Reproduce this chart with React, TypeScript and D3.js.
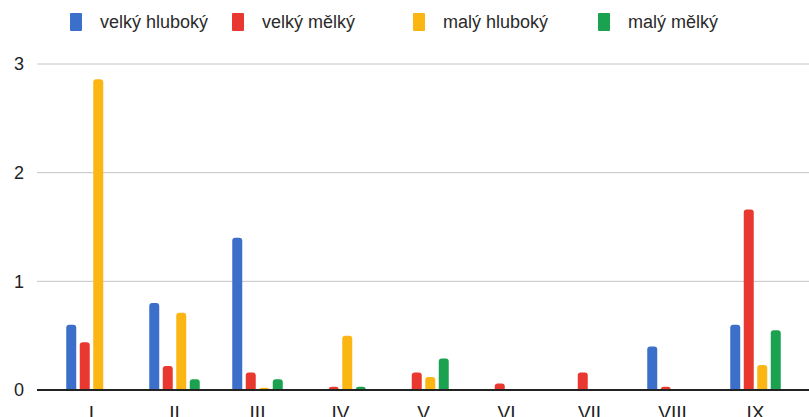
import React from "react";
import * as d3 from "d3";

const categories = ["I", "II", "III", "IV", "V", "VI", "VII", "VIII", "IX"];
const seriesNames = ["velký hluboký", "velký mělký", "malý hluboký", "malý mělký"];
const velkyHluboky = [0.6, 0.8, 1.4, 0, 0, 0, 0, 0.4, 0.6];
const velkyMelky = [0.44, 0.22, 0.16, 0.03, 0.16, 0.06, 0.16, 0.03, 1.66];
const malyHluboky = [2.86, 0.71, 0.02, 0.5, 0.12, 0, 0, 0, 0.23];
const malyMelky = [0, 0.1, 0.1, 0.03, 0.29, 0, 0, 0, 0.55];
const yTicks = [0, 1, 2, 3];
const colors = ["#3b6fc9", "#e8382f", "#fbb613", "#1aa251"];

const W = 809;
const H = 417;
const FONT = "'Liberation Sans', Arial, sans-serif";

function barPath(x: number, y: number, w: number, h: number, r: number) {
	if (h <= 0) return "";
	const rr = Math.min(r, h, w / 2);
	return `M${x},${y + h}V${y + rr}Q${x},${y} ${x + rr},${y}H${x + w - rr}Q${x + w},${y} ${x + w},${y + rr}V${y + h}Z`;
}

export default function App() {
	const series = [velkyHluboky, velkyMelky, malyHluboky, malyMelky];

	const x0 = d3.scaleBand<string>().domain(categories).range([50, 797]).padding(0);
	const x1 = d3
		.scaleBand<number>()
		.domain(d3.range(seriesNames.length))
		.range([0, 50.5])
		.paddingInner(0.26)
		.paddingOuter(0);
	const y = d3.scaleLinear().domain([0, 3]).range([390, 64]);

	// legend positions
	const legendX = [70, 232, 413, 598];

	return (
		<svg
			width={W}
			height={H}
			style={{ position: "fixed", left: 0, top: 0, background: "#fff" }}
			fontFamily={FONT}
		>
			<rect width={W} height={H} fill="#fff" />
			{/* legend */}
			{seriesNames.map((name, i) => (
				<g key={name} transform={`translate(${legendX[i]},0)`}>
					<rect x={0} y={13} width={12} height={18} fill={colors[i]} rx={1} />
					<text x={30} y={28} fontSize={18} fill="#2a2a2a">
						{name}
					</text>
				</g>
			))}
			{/* grid */}
			{yTicks.map((t) => (
				<g key={t}>
					{t !== 0 && <line x1={37} x2={W} y1={y(t)} y2={y(t)} stroke="#c4c4c4" strokeWidth={1} />}
					<text x={19} y={y(t)} dy="0.36em" fontSize={18} textAnchor="middle" fill="#222">
						{t}
					</text>
				</g>
			))}
			{/* bars */}
			{categories.map((c, ci) => {
				const cx = (x0(c) ?? 0) + x0.bandwidth() / 2;
				const start = cx - 50.5 / 2;
				return (
					<g key={c}>
						{series.map((s, si) => {
							const v = s[ci];
							const bx = start + (x1(si) ?? 0);
							const top = y(v);
							return (
								<path
									key={si}
									d={barPath(bx, top, x1.bandwidth(), y(0) - top, 3)}
									fill={colors[si]}
								/>
							);
						})}
						<text x={cx} y={419} fontSize={19} textAnchor="middle" fill="#222">
							{c}
						</text>
					</g>
				);
			})}
			<line x1={37} x2={W} y1={y(0)} y2={y(0)} stroke="#222" strokeWidth={2} />
		</svg>
	);
}
